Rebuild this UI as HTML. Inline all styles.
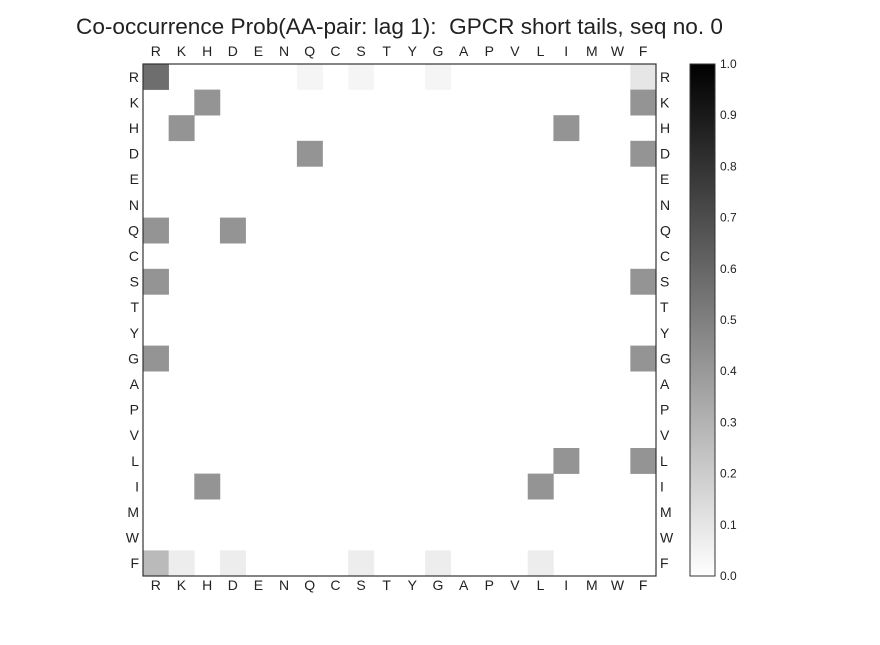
<!DOCTYPE html>
<html><head><meta charset="utf-8"><style>
body{margin:0;background:#fff;}
text{font-family:"Liberation Sans",sans-serif;fill:#222;}
</style></head><body>
<svg id="chart" width="880" height="640" xmlns="http://www.w3.org/2000/svg">
<defs><linearGradient id="cbg" x1="0" y1="1" x2="0" y2="0"><stop offset="0" stop-color="#fff"/><stop offset="1" stop-color="#000"/></linearGradient></defs>
<text x="76" y="34" font-size="22" text-anchor="start" textLength="647" lengthAdjust="spacingAndGlyphs" style="white-space:pre" xml:space="preserve">Co-occurrence Prob(AA-pair: lag 1):  GPCR short tails, seq no. 0</text>
<g id="cells"></g><g id="labels"></g>
<rect x="143" y="64" width="513" height="512" fill="none" stroke="#333" stroke-width="1.2"/>
<rect x="690" y="64" width="25" height="512" fill="url(#cbg)" stroke="#333" stroke-width="1"/>
<g id="cb"></g>
</svg>
<script>
const aminoAcids=["R","K","H","D","E","N","Q","C","S","T","Y","G","A","P","V","L","I","M","W","F"];
const cellRows=["R","R","R","R","R","K","K","H","H","D","D","Q","Q","S","S","G","G","L","L","I","I","F","F","F","F","F","F"];
const cellCols=["R","Q","S","G","F","H","F","K","I","Q","F","R","D","R","F","R","F","I","F","H","L","R","K","D","S","G","L"];
const cellValues=[0.57,0.04,0.04,0.04,0.1,0.42,0.42,0.42,0.42,0.42,0.42,0.42,0.42,0.42,0.42,0.42,0.42,0.42,0.42,0.42,0.42,0.27,0.07,0.07,0.07,0.07,0.07];
const cbTicks=["0.0","0.1","0.2","0.3","0.4","0.5","0.6","0.7","0.8","0.9","1.0"];
const NS="http://www.w3.org/2000/svg";
const X0=143,Y0=64,W=513,H=512,n=aminoAcids.length,cw=W/n,ch=H/n;
const xPos=a=>X0+aminoAcids.indexOf(a)*cw, yPos=a=>Y0+aminoAcids.indexOf(a)*ch;
const color=v=>{const g=Math.round(255*(1-v));return `rgb(${g},${g},${g})`;};
const cells=document.getElementById('cells'),labels=document.getElementById('labels'),cb=document.getElementById('cb');
cellValues.forEach((v,i)=>{const r=document.createElementNS(NS,'rect');
r.setAttribute('x',xPos(cellCols[i]));r.setAttribute('y',yPos(cellRows[i]));
r.setAttribute('width',cw+0.3);r.setAttribute('height',ch+0.3);r.setAttribute('fill',color(v));


cells.appendChild(r);});
function txt(parent,x,y,s,anchor,name){const t=document.createElementNS(NS,'text');
t.setAttribute('x',x);t.setAttribute('y',y);t.setAttribute('font-size','14');t.setAttribute('text-anchor',anchor);t.textContent=s;


parent.appendChild(t);}
aminoAcids.forEach(a=>{const cx=xPos(a)+cw/2,cy=yPos(a)+ch/2+5;
txt(labels,cx,56,a,'middle','top-label-'+a);
txt(labels,cx,590,a,'middle','bottom-label-'+a);
txt(labels,139,cy,a,'end','left-label-'+a);
txt(labels,660,cy,a,'start','right-label-'+a);});
cbTicks.forEach(s=>{const y=576-parseFloat(s)*512;txt(cb,720,y+4,s,'start','colorbar-tick-'+s);});
cb.querySelectorAll('text').forEach(t=>t.setAttribute('font-size','12'));
</script>
</body></html>
